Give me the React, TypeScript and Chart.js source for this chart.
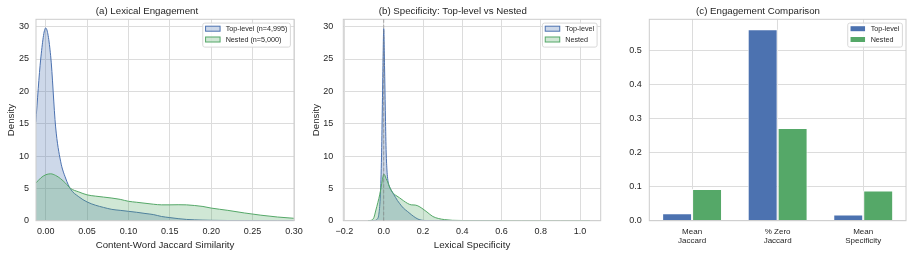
import { useEffect, useRef } from "react";
import { Chart, registerables } from "chart.js";

Chart.register(...registerables);

// ---------------- data ----------------
// (a) Lexical engagement: content-word Jaccard similarity KDE
const jacX = [-0.012, -0.006, 0, 0.006, 0.012, 0.018, 0.024, 0.03, 0.04, 0.05, 0.06, 0.07, 0.08, 0.09, 0.1, 0.11, 0.12, 0.13, 0.14, 0.15, 0.16, 0.17, 0.18, 0.19, 0.2, 0.22, 0.24, 0.26, 0.28, 0.3, 0.32];
const jacTop = [15.2, 25.0, 29.8, 25.5, 14.5, 9.2, 6.6, 4.9, 3.7, 2.9, 2.4, 2.05, 1.75, 1.6, 1.45, 1.3, 1.12, 0.95, 0.65, 0.48, 0.32, 0.2, 0.13, 0.09, 0.06, 0.03, 0.015, 0.008, 0.004, 0.002, 0.001];
const jacNested = [5.8, 6.6, 7.1, 7.25, 7.0, 6.5, 5.8, 5.0, 4.45, 4.0, 3.8, 3.65, 3.5, 3.3, 3.0, 2.85, 2.7, 2.55, 2.45, 2.45, 2.47, 2.45, 2.35, 2.2, 1.95, 1.6, 1.2, 0.85, 0.57, 0.37, 0.22];
const jacTicks = [0, 0.05, 0.1, 0.15, 0.2, 0.25, 0.3];

// (b) Lexical specificity KDE
const specTopX = [-0.08, -0.05, -0.035, -0.025, -0.018, -0.012, -0.008, -0.004, 0, 0.004, 0.008, 0.012, 0.016, 0.02, 0.025, 0.03, 0.04, 0.05, 0.06, 0.07, 0.08, 0.09, 0.1, 0.12, 0.14, 0.16, 0.18, 0.2, 0.22, 0.26, 0.4, 0.6];
const specTop = [0, 0.02, 0.2, 1.0, 3.5, 9, 16, 24, 29.7, 24, 17, 11, 8, 6.5, 5.6, 5.2, 4.6, 4.1, 3.6, 3.1, 2.7, 2.3, 1.95, 1.45, 0.95, 0.5, 0.18, 0.05, 0.01, 0.003, 0, 0];
const specNestedX = [-0.08, -0.065, -0.05, -0.04, -0.03, -0.02, -0.01, -0.004, 0, 0.006, 0.012, 0.02, 0.03, 0.04, 0.05, 0.06, 0.08, 0.1, 0.12, 0.14, 0.16, 0.18, 0.2, 0.22, 0.25, 0.28, 0.31, 0.35, 0.4, 0.5, 0.6, 0.7, 0.8, 0.9, 1.0, 1.05];
const specNested = [0, 0.05, 0.5, 1.65, 2.8, 4.1, 5.8, 6.8, 7.2, 7.0, 6.5, 6.0, 5.2, 4.6, 4.2, 3.95, 3.55, 3.1, 2.7, 2.45, 2.42, 2.2, 1.8, 1.35, 0.65, 0.33, 0.17, 0.06, 0.03, 0.02, 0.015, 0.01, 0.008, 0.005, 0.002, 0];
const specTicks = [-0.2, 0, 0.2, 0.4, 0.6, 0.8, 1.0];

const densityTicks = [0, 5, 10, 15, 20, 25, 30];

// (c) Engagement comparison bars
const barCategories = [["Mean", "Jaccard"], ["% Zero", "Jaccard"], ["Mean", "Specificity"]];
const barTop = [0.022, 0.564, 0.018];
const barNested = [0.093, 0.273, 0.089];
const barTicks = [0, 0.1, 0.2, 0.3, 0.4, 0.5];

// ---------------- styles ----------------
const FONT = "'Liberation Sans', Arial, Helvetica, sans-serif";
const TEXT = "#262626";
const GRID = "#dcdcdc";
const SPINE = "#cccccc";
const BLUE = "#4c72b0";
const GREEN = "#55a868";
const BLUE_FILL = "rgba(76,114,176,0.28)";
const GREEN_FILL = "rgba(85,168,104,0.28)";

const zip = (xs: number[], ys: number[]) => xs.map((x, i) => ({ x, y: ys[i] }));

const spinesPlugin = {
  id: "spines",
  afterDatasetsDraw(chart: any) {
    const { ctx, chartArea: a } = chart;
    ctx.save();
    ctx.strokeStyle = SPINE;
    ctx.lineWidth = 1;
    ctx.strokeRect(a.left, a.top, a.right - a.left, a.bottom - a.top);
    ctx.restore();
  },
};

const zeroLinePlugin = {
  id: "zeroLine",
  afterDatasetsDraw(chart: any) {
    const { ctx, chartArea: a, scales } = chart;
    const x = scales.x.getPixelForValue(0);
    ctx.save();
    ctx.strokeStyle = "rgba(128,128,128,0.6)";
    ctx.lineWidth = 1;
    ctx.setLineDash([3.5, 2]);
    ctx.beginPath();
    ctx.moveTo(x, a.top);
    ctx.lineTo(x, a.bottom);
    ctx.stroke();
    ctx.restore();
  },
};

type LegendItem = { label: string; fill: string; stroke?: string };

function boxLegend(items: LegendItem[]) {
  return {
    id: "boxLegend",
    afterDraw(chart: any) {
      const { ctx, chartArea: a } = chart;
      ctx.save();
      ctx.font = `7.2px ${FONT}`;
      const tw = Math.max(...items.map((it) => ctx.measureText(it.label).width));
      const padL = 2.8, pw = 14.5, ph = 5, gap = 5.6, padR = 3;
      const w = padL + pw + gap + tw + padR;
      const h = 24;
      const x0 = a.right - 3.6 - w;
      const y0 = a.top + 3.8;
      const r = 2;
      ctx.beginPath();
      ctx.moveTo(x0 + r, y0);
      ctx.lineTo(x0 + w - r, y0);
      ctx.arcTo(x0 + w, y0, x0 + w, y0 + r, r);
      ctx.lineTo(x0 + w, y0 + h - r);
      ctx.arcTo(x0 + w, y0 + h, x0 + w - r, y0 + h, r);
      ctx.lineTo(x0 + r, y0 + h);
      ctx.arcTo(x0, y0 + h, x0, y0 + h - r, r);
      ctx.lineTo(x0, y0 + r);
      ctx.arcTo(x0, y0, x0 + r, y0, r);
      ctx.closePath();
      ctx.fillStyle = "rgba(255,255,255,0.85)";
      ctx.fill();
      ctx.strokeStyle = "#d8d8d8";
      ctx.lineWidth = 1;
      ctx.stroke();
      items.forEach((it, i) => {
        const cy = y0 + 5.6 + i * 10.8;
        ctx.fillStyle = it.fill;
        ctx.fillRect(x0 + padL, cy - ph / 2, pw, ph);
        if (it.stroke) {
          ctx.strokeStyle = it.stroke;
          ctx.lineWidth = 1;
          ctx.strokeRect(x0 + padL, cy - ph / 2, pw, ph);
        }
        ctx.fillStyle = TEXT;
        ctx.textBaseline = "middle";
        ctx.textAlign = "left";
        ctx.fillText(it.label, x0 + padL + pw + gap, cy + 0.3);
      });
      ctx.restore();
    },
  };
}

const tickFont = { family: FONT, size: 9 };
const labelFont = { family: FONT, size: 9.7 };

function titleOpts(text: string) {
  return {
    display: true,
    text,
    color: TEXT,
    font: { family: FONT, size: 9.7, weight: "normal" as const, lineHeight: 1.2 },
    padding: { top: 5.2, bottom: 2.46 },
  };
}

function densityConfig(p: {
  title: string;
  xLabel: string;
  xMin: number;
  xMax: number;
  xTicks: number[];
  fmt: (v: number) => string;
  topData: { x: number; y: number }[];
  nestedData: { x: number; y: number }[];
  yWidth: number;
  yTickPad: number;
  yTitlePad: number;
  padRight: number;
  legend: LegendItem[];
  extra: any[];
}): any {
  return {
    type: "line",
    data: {
      datasets: [
        {
          label: "Top-level",
          data: p.topData,
          borderColor: BLUE,
          backgroundColor: BLUE_FILL,
          fill: "origin",
          borderWidth: 1,
          pointRadius: 0,
          cubicInterpolationMode: "monotone",
          order: 2,
        },
        {
          label: "Nested",
          data: p.nestedData,
          borderColor: GREEN,
          backgroundColor: GREEN_FILL,
          fill: "origin",
          borderWidth: 1,
          pointRadius: 0,
          cubicInterpolationMode: "monotone",
          order: 1,
        },
      ],
    },
    options: {
      responsive: false,
      animation: false,
      events: [],
      layout: { padding: { left: 0, right: p.padRight, top: 0, bottom: 0 } },
      plugins: {
        legend: { display: false },
        tooltip: { enabled: false },
        title: titleOpts(p.title),
      },
      scales: {
        x: {
          type: "linear",
          min: p.xMin,
          max: p.xMax,
          afterBuildTicks: (s: any) => {
            s.ticks = p.xTicks.map((v) => ({ value: v }));
          },
          afterFit: (s: any) => {
            s.height = 36.3;
          },
          ticks: {
            callback: (v: any) => p.fmt(Number(v)),
            font: tickFont,
            color: TEXT,
            padding: 5,
            maxRotation: 0,
            autoSkip: false,
          },
          grid: { color: GRID, drawTicks: false, lineWidth: 1 },
          border: { display: false },
          title: {
            display: true,
            text: p.xLabel,
            color: TEXT,
            font: labelFont,
            padding: { top: 0, bottom: 6.2 },
          },
        },
        y: {
          type: "linear",
          min: 0,
          max: 31.14,
          afterBuildTicks: (s: any) => {
            s.ticks = densityTicks.map((v) => ({ value: v }));
          },
          afterFit: (s: any) => {
            s.width = p.yWidth;
          },
          ticks: {
            callback: (v: any) => String(v),
            font: tickFont,
            color: TEXT,
            padding: p.yTickPad,
          },
          grid: { color: GRID, drawTicks: false, lineWidth: 1 },
          border: { display: false },
          title: {
            display: true,
            text: "Density",
            color: TEXT,
            font: labelFont,
            padding: { top: p.yTitlePad, bottom: 0 },
          },
        },
      },
    },
    plugins: [spinesPlugin, ...p.extra, boxLegend(p.legend)],
  };
}

function barConfig(): any {
  return {
    type: "bar",
    data: {
      labels: barCategories,
      datasets: [
        {
          label: "Top-level",
          data: barTop,
          backgroundColor: BLUE,
          borderColor: "#ffffff",
          borderWidth: 1,
          categoryPercentage: 0.7,
          barPercentage: 1,
        },
        {
          label: "Nested",
          data: barNested,
          backgroundColor: GREEN,
          borderColor: "#ffffff",
          borderWidth: 1,
          categoryPercentage: 0.7,
          barPercentage: 1,
        },
      ],
    },
    options: {
      responsive: false,
      animation: false,
      events: [],
      layout: { padding: { left: 0, right: 8, top: 0, bottom: 0 } },
      plugins: {
        legend: { display: false },
        tooltip: { enabled: false },
        title: titleOpts("(c) Engagement Comparison"),
      },
      scales: {
        x: {
          afterFit: (s: any) => {
            s.height = 36.3;
          },
          ticks: {
            font: { family: FONT, size: 8, lineHeight: 1.1 },
            color: TEXT,
            padding: 6.5,
            maxRotation: 0,
            autoSkip: false,
          },
          grid: { color: GRID, drawTicks: false, lineWidth: 1, offset: false },
          border: { display: false },
        },
        y: {
          min: 0,
          max: 0.593,
          afterBuildTicks: (s: any) => {
            s.ticks = barTicks.map((v) => ({ value: v }));
          },
          afterFit: (s: any) => {
            s.width = 39.3;
          },
          ticks: {
            callback: (v: any) => Number(v).toFixed(1),
            font: tickFont,
            color: TEXT,
            padding: 7.6,
          },
          grid: { color: GRID, drawTicks: false, lineWidth: 1 },
          border: { display: false },
        },
      },
    },
    plugins: [
      spinesPlugin,
      boxLegend([
        { label: "Top-level", fill: BLUE },
        { label: "Nested", fill: GREEN },
      ]),
    ],
  };
}

export default function App() {
  const refA = useRef<HTMLCanvasElement>(null);
  const refB = useRef<HTMLCanvasElement>(null);
  const refC = useRef<HTMLCanvasElement>(null);

  useEffect(() => {
    const charts: Chart[] = [];
    charts.push(
      new Chart(
        refA.current!,
        densityConfig({
          title: "(a) Lexical Engagement",
          xLabel: "Content-Word Jaccard Similarity",
          xMin: -0.0117,
          xMax: 0.3,
          xTicks: jacTicks,
          fmt: (v) => v.toFixed(2),
          topData: zip(jacX, jacTop),
          nestedData: zip(jacX, jacNested),
          yWidth: 36,
          yTickPad: 7,
          yTitlePad: 5.2,
          padRight: 16,
          legend: [
            { label: "Top-level (n=4,995)", fill: BLUE_FILL, stroke: BLUE },
            { label: "Nested (n=5,000)", fill: GREEN_FILL, stroke: GREEN },
          ],
          extra: [],
        })
      )
    );
    charts.push(
      new Chart(
        refB.current!,
        densityConfig({
          title: "(b) Specificity: Top-level vs Nested",
          xLabel: "Lexical Specificity",
          xMin: -0.206,
          xMax: 1.105,
          xTicks: specTicks,
          fmt: (v) => (v < -1e-9 ? "\u2212" + Math.abs(v).toFixed(1) : Math.abs(v).toFixed(1)),
          topData: zip(specTopX, specTop),
          nestedData: zip(specNestedX, specNested),
          yWidth: 38.3,
          yTickPad: 10,
          yTitlePad: 5.9,
          padRight: 9.3,
          legend: [
            { label: "Top-level", fill: BLUE_FILL, stroke: BLUE },
            { label: "Nested", fill: GREEN_FILL, stroke: GREEN },
          ],
          extra: [zeroLinePlugin],
        })
      )
    );
    charts.push(new Chart(refC.current!, barConfig()));
    return () => charts.forEach((c) => c.destroy());
  }, []);

  return (
    <div
      style={{
        position: "fixed",
        left: 0,
        top: 0,
        width: 914,
        height: 257,
        background: "#ffffff",
        overflow: "hidden",
      }}
    >
      <canvas ref={refA} width={310} height={257} style={{ position: "absolute", left: 0, top: 0 }} />
      <canvas ref={refB} width={305} height={257} style={{ position: "absolute", left: 305, top: 0 }} />
      <canvas ref={refC} width={304} height={257} style={{ position: "absolute", left: 610, top: 0 }} />
    </div>
  );
}
